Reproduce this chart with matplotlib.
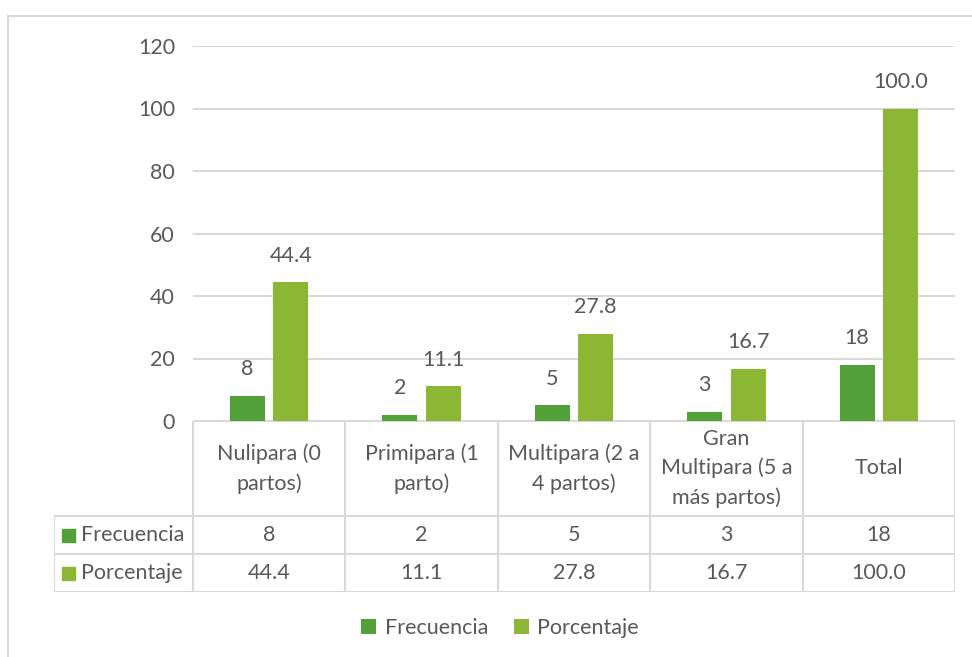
import numpy as np
import matplotlib.pyplot as plt
from matplotlib.patches import Rectangle

plt.rcParams['font.family'] = ['Lato', 'DejaVu Sans']

categorias = ["Nulipara (0\npartos)", "Primipara (1\nparto)", "Multipara (2 a\n4 partos)",
              "Gran\nMultipara (5 a\nmás partos)", "Total"]
frecuencia = [8, 2, 5, 3, 18]
porcentaje = [44.4, 11.1, 27.8, 16.7, 100.0]
series = ["Frecuencia", "Porcentaje"]
colores = ["#52A038", "#8CB734"]
texto = "#595959"
rejilla = "#D9D9D9"
fs = 15.5

W, H = 972, 657
fig = plt.figure(figsize=(W / 100, H / 100), dpi=100)

# outer chart border (cut off at right and bottom)
fig.patches.append(Rectangle((8 / W, -0.1), 1.1, 1 - 16 / H + 0.1, transform=fig.transFigure,
                             fill=False, edgecolor=rejilla, lw=1.5))

# bars
ax = fig.add_axes([193 / W, 1 - 421 / H, (955 - 193) / W, (421 - 46) / H])
x = np.arange(len(categorias))
w = 0.23
gap = 0.055
b1 = ax.bar(x - (w + gap) / 2, frecuencia, w, color=colores[0], label=series[0])
b2 = ax.bar(x + (w + gap) / 2, porcentaje, w, color=colores[1], label=series[1])
for bars, vals, fmt in [(b1, frecuencia, "{:d}"), (b2, porcentaje, "{:.1f}")]:
    for b, v in zip(bars, vals):
        ax.annotate(fmt.format(v), (b.get_x() + b.get_width() / 2, v), xytext=(0, 12),
                    textcoords="offset points", ha="center", va="bottom",
                    fontsize=fs, color=texto)
ax.set_xlim(-0.5, len(categorias) - 0.5)
ax.set_ylim(0, 120)
ax.set_yticks(range(0, 121, 20))
ax.set_xticks([])
ax.tick_params(axis="y", length=0, pad=13, labelsize=fs, labelcolor=texto)
ax.grid(axis="y", color=rejilla, lw=1.5)
ax.set_axisbelow(True)
for s in ax.spines.values():
    s.set_visible(False)

# data table below the axis
lab_w = 139 / 152.4
tb = fig.add_axes([54 / W, 1 - 592 / H, (955 - 54) / W, (592 - 421) / H])
tb.set_xlim(-0.5 - lab_w, len(categorias) - 0.5)
tb.set_ylim(171, 0)
tb.axis("off")
kw = dict(color=rejilla, lw=1.5, solid_capstyle="projecting")
# horizontal lines
tb.plot([-0.5, len(categorias) - 0.5], [0, 0], **kw)
for yy in (95, 133, 171):
    tb.plot([-0.5 - lab_w, len(categorias) - 0.5], [yy, yy], **kw)
# vertical lines
for xx in np.arange(len(categorias) + 1) - 0.5:
    tb.plot([xx, xx], [0, 171], **kw)
tb.plot([-0.5 - lab_w] * 2, [95, 171], **kw)

for i, c in enumerate(categorias):
    tb.text(i, 47.5, c, ha="center", va="center", fontsize=fs, color=texto, linespacing=1.55)
    tb.text(i, 114, f"{frecuencia[i]:d}", ha="center", va="center", fontsize=fs, color=texto)
    tb.text(i, 152, f"{porcentaje[i]:.1f}", ha="center", va="center", fontsize=fs, color=texto)
for j, (name, col) in enumerate(zip(series, colores)):
    yy = 114 + 38 * j
    tb.add_patch(Rectangle((-0.5 - lab_w + 0.055, yy - 6.5), 0.085, 13, color=col))
    tb.text(-0.5 - lab_w + 0.18, yy, name, ha="left", va="center", fontsize=fs, color=texto)

fig.legend(handles=[b1, b2], labels=series, loc="center", bbox_to_anchor=(500 / W, 1 - 628 / H),
           ncol=2, frameon=False, fontsize=fs, labelcolor=texto, handlelength=0.7,
           handleheight=0.7, handletextpad=0.4, columnspacing=1.2)

fig.savefig("out.png", dpi=100)
